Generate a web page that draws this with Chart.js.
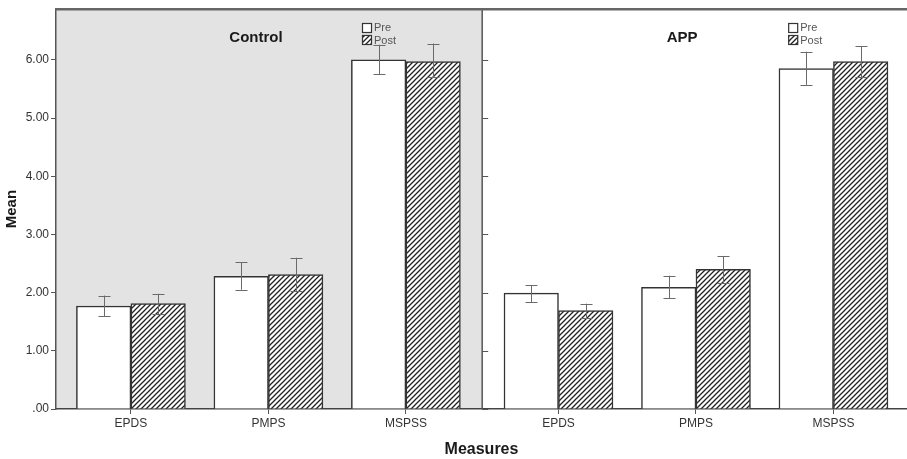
<!DOCTYPE html>
<html>
<head>
<meta charset="utf-8">
<script src="https://cdn.jsdelivr.net/npm/chart.js"></script>
<style>
  html, body { margin: 0; padding: 0; background: #fff; }
  #wrap { position: relative; width: 907px; height: 459px; }
</style>
</head>
<body>
<div id="wrap"><canvas id="chart" width="907" height="459"></canvas></div>
<script>
// values (Control panel first, then APP)
const measures = ['EPDS', 'PMPS', 'MSPSS'];
const groups = ['Control', 'APP'];
const preMean  = [1.77, 2.28, 6.00, 1.99, 2.09, 5.85];
const preLow   = [1.59, 2.05, 5.75, 1.84, 1.90, 5.57];
const preHigh  = [1.95, 2.52, 6.26, 2.13, 2.29, 6.14];
const postMean = [1.81, 2.31, 5.97, 1.69, 2.40, 5.97];
const postLow  = [1.63, 2.03, 5.70, 1.57, 2.17, 5.70];
const postHigh = [1.98, 2.60, 6.28, 1.81, 2.63, 6.23];
const yTicks = [0, 1, 2, 3, 4, 5, 6];

// second panel is shifted a bit along x so both panels look alike
const panelShift = 3.11;
const xPos = [];
groups.forEach((g, p) => measures.forEach((m, i) => xPos.push(i + p * panelShift)));
const divider = 2 + (panelShift - 2) / 2;

function makeHatch() {
    const c = document.createElement('canvas');
    c.width = 5; c.height = 5;
    const g = c.getContext('2d');
    g.fillStyle = '#fff';
    g.fillRect(0, 0, 5, 5);
    g.strokeStyle = '#222';
    g.lineWidth = 1.3;
    g.beginPath();
    g.moveTo(-1, 6); g.lineTo(6, -1);
    g.moveTo(-1, 1); g.lineTo(1, -1);
    g.moveTo(4, 6); g.lineTo(6, 4);
    g.stroke();
    return g.createPattern(c, 'repeat');
}
const hatch = makeHatch();

const panels = {
    id: 'panels',
    beforeDraw(chart) {
        const {ctx, chartArea: a, scales: {x}} = chart;
        const mid = x.getPixelForValue(divider);
        ctx.save();
        ctx.fillStyle = '#e3e3e3';
        ctx.fillRect(a.left, a.top, mid - a.left, a.bottom - a.top);
        ctx.restore();
    },
    afterDraw(chart) {
        const {ctx, chartArea: a, scales: {x, y}} = chart;
        const mid = x.getPixelForValue(divider);
        ctx.save();
        ctx.strokeStyle = '#555';
        ctx.lineWidth = 1.5;
        ctx.beginPath();
        ctx.moveTo(mid, a.top); ctx.lineTo(mid, a.bottom);
        ctx.stroke();
        ctx.lineWidth = 2.5;
        ctx.strokeStyle = '#666';
        ctx.beginPath();
        ctx.moveTo(a.left - 1, a.top); ctx.lineTo(chart.width, a.top);
        ctx.stroke();
        // short inner ticks of the second panel
        ctx.lineWidth = 1;
        ctx.strokeStyle = '#555';
        yTicks.forEach(v => {
            const py = Math.round(y.getPixelForValue(v)) + 0.5;
            ctx.beginPath();
            ctx.moveTo(mid, py); ctx.lineTo(mid + 6, py);
            ctx.stroke();
        });
        // panel titles and legends
        groups.forEach((g, p) => {
            const left = p === 0 ? a.left : mid;
            ctx.fillStyle = '#1a1a1a';
            ctx.font = 'bold 15px "Liberation Sans", Arial, sans-serif';
            ctx.textAlign = 'center';
            ctx.textBaseline = 'middle';
            ctx.fillText(g, left + 200, 38);

            const lx = left + 306;
            ctx.lineWidth = 1.2;
            ctx.strokeStyle = '#333';
            ctx.fillStyle = '#fff';
            ctx.fillRect(lx, 23, 10, 10);
            ctx.strokeRect(lx + 0.5, 23.5, 9, 9);
            ctx.fillStyle = hatch;
            ctx.fillRect(lx, 35, 10, 10);
            ctx.strokeRect(lx + 0.5, 35.5, 9, 9);
            ctx.fillStyle = '#555';
            ctx.font = '11px "Liberation Sans", Arial, sans-serif';
            ctx.textAlign = 'left';
            ctx.fillText('Pre', lx + 12, 28);
            ctx.fillText('Post', lx + 12, 41);
        });
        ctx.restore();
    }
};

const errorBars = {
    id: 'errorBars',
    afterDatasetsDraw(chart) {
        const {ctx, scales: {y}} = chart;
        const lows = [preLow, postLow], highs = [preHigh, postHigh];
        ctx.save();
        ctx.strokeStyle = '#6a6a6a';
        ctx.lineWidth = 1;
        chart.data.datasets.forEach((ds, d) => {
            chart.getDatasetMeta(d).data.forEach((bar, i) => {
                const cx = Math.round(bar.x) + 0.5;
                const lo = y.getPixelForValue(lows[d][i]);
                const hi = y.getPixelForValue(highs[d][i]);
                ctx.beginPath();
                ctx.moveTo(cx, lo); ctx.lineTo(cx, hi);
                ctx.moveTo(cx - 6, Math.round(lo) + 0.5); ctx.lineTo(cx + 6, Math.round(lo) + 0.5);
                ctx.moveTo(cx - 6, Math.round(hi) + 0.5); ctx.lineTo(cx + 6, Math.round(hi) + 0.5);
                ctx.stroke();
            });
        });
        ctx.restore();
    }
};

new Chart(document.getElementById('chart'), {
    type: 'bar',
    data: {
        datasets: [{
            label: 'Pre',
            data: xPos.map((x, i) => ({x: x, y: preMean[i]})),
            backgroundColor: '#fff',
            borderColor: '#333',
            borderWidth: 1.5
        }, {
            label: 'Post',
            data: xPos.map((x, i) => ({x: x, y: postMean[i]})),
            backgroundColor: hatch,
            borderColor: '#333',
            borderWidth: 1.5
        }]
    },
    options: {
        responsive: false,
        animation: false,
        barThickness: 54.5,
        layout: { padding: { top: 7, left: 0, right: 0, bottom: 0 } },
        plugins: {
            legend: { display: false },
            tooltip: { enabled: false }
        },
        scales: {
            x: {
                type: 'linear',
                offset: false,
                min: -0.545,
                max: 5.645,
                afterBuildTicks: s => { s.ticks = xPos.map(v => ({value: v})); },
                afterFit: s => { s.height = 50; },
                ticks: {
                    callback: (v, i) => measures[i % measures.length],
                    color: '#333',
                    font: { family: '"Liberation Sans", Arial, sans-serif', size: 12 },
                    padding: 2,
                    maxRotation: 0,
                    autoSkip: false
                },
                grid: { offset: false, drawOnChartArea: false, tickLength: 5, color: '#555' },
                border: { display: true, color: '#444', width: 1.5 },
                title: {
                    display: true,
                    text: 'Measures',
                    color: '#1a1a1a',
                    font: { family: '"Liberation Sans", Arial, sans-serif', size: 16, weight: 'bold' },
                    padding: { top: 0, bottom: 0 }
                }
            },
            y: {
                min: 0,
                max: 6.87,
                afterBuildTicks: s => { s.ticks = yTicks.map(v => ({value: v})); },
                afterFit: s => { s.width = 56; },
                ticks: {
                    callback: v => v === 0 ? '.00' : v.toFixed(2),
                    color: '#333',
                    font: { family: '"Liberation Sans", Arial, sans-serif', size: 12 },
                    padding: 2
                },
                grid: { drawOnChartArea: false, tickLength: 5, color: '#555' },
                border: { display: true, color: '#555', width: 1.5 },
                title: {
                    display: true,
                    text: 'Mean',
                    color: '#1a1a1a',
                    font: { family: '"Liberation Sans", Arial, sans-serif', size: 15, weight: 'bold' },
                    padding: { top: 3, bottom: 0 }
                }
            }
        }
    },
    plugins: [panels, errorBars]
});
</script>
</body>
</html>
